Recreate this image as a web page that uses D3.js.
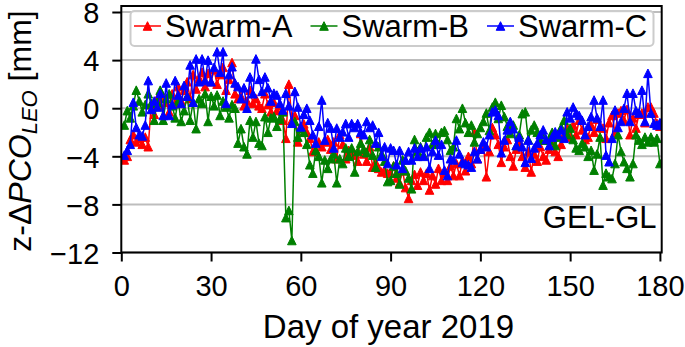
<!DOCTYPE html>
<html>
<head>
<meta charset="utf-8">
<script src="https://cdn.jsdelivr.net/npm/d3@7"></script>
<style>
html,body{margin:0;padding:0;background:#fff;}
text{font-family:"Liberation Sans",Arial,sans-serif;}
</style>
</head>
<body>
<script>
// ---- data ----
const days = d3.range(1, 181);
const swarmA = [
-4.3,-4.0,-2.6,-2.2,-2.8,-2.5,-3.0,-2.4,-3.2,0.3,
-0.5,0.8,0.2,1.0,0.5,-0.3,1.2,0.4,1.8,0.6,
1.5,2.2,0.8,2.8,1.6,2.5,3.0,1.8,2.9,2.2,
3.2,2.0,2.8,3.4,1.5,2.4,3.8,1.2,0.8,1.0,
0.2,0.6,1.5,0.4,0.8,0.2,0.0,1.2,0.3,-0.3,
0.5,-0.2,0.2,-1.0,-2.5,2.0,-1.0,-0.6,-2.8,-1.5,
-1.3,-2.0,-2.5,-3.6,-3.5,-2.8,-3.2,-2.8,-2.6,-3.4,
-2.8,-4.2,-2.2,-3.0,-4.2,-3.5,-3.9,-3.8,-4.4,-2.1,
-3.8,-4.4,-3.2,-4.9,-4.5,-5.0,-5.3,-5.2,-5.4,-5.4,
-4.8,-5.8,-6.2,-5.2,-6.6,-7.5,-6.0,-5.5,-6.4,-5.3,
-6.0,-5.4,-6.8,-5.6,-6.3,-5.0,-6.0,-5.4,-6.0,-4.8,
-5.6,-4.6,-5.6,-4.4,-5.2,-4.0,-4.6,-2.0,-4.2,-3.4,
-3.0,-5.7,-3.6,-1.6,-2.2,-3.0,-4.5,-3.2,-2.6,-4.0,
-4.8,-3.4,-2.8,-4.0,-4.9,-3.6,-5.3,-3.8,-4.4,-3.2,
-4.0,-4.3,-3.4,-2.8,-3.6,-4.0,-3.0,-2.2,-1.6,-2.4,
-1.4,-2.2,-1.0,-1.8,-2.6,-2.4,-1.4,-2.0,-0.9,-1.6,
-1.65,-2.5,-1.2,-0.6,-2.0,-0.4,-0.2,-1.0,-0.1,-2.2,
-0.8,-1.65,-0.5,-0.4,-1.2,0.1,0.1,-0.4,-1.25,-1.5];
const swarmB = [
-1.4,-0.2,-0.8,0.2,1.5,0.6,-0.3,0.3,1.2,0.4,
-1.0,0.5,1.5,-1.0,0.8,1.2,0.2,-0.8,0.6,-1.1,
-0.2,1.0,-1.0,0.5,-1.7,0.8,0.4,1.2,-1.1,1.0,
0.2,1.1,-0.6,0.6,0.1,-0.8,0.3,0.0,-2.9,-1.7,
-3.2,-3.8,-1.0,-2.4,-1.1,-2.9,-3.1,-0.7,-2.0,-0.8,
-0.7,-1.5,-0.9,-0.3,-9.1,-8.5,-11.0,-1.1,-2.4,-1.7,
-2.0,-3.0,-4.7,-5.4,-3.5,-4.0,-6.2,-4.3,-5.0,-4.2,
-3.8,-6.2,-4.2,-4.6,-3.3,-4.0,-3.3,-5.3,-3.6,-2.9,
-3.4,-3.7,-2.6,-3.9,-4.9,-3.2,-3.8,-4.4,-6.1,-6.0,
-4.8,-5.4,-6.3,-4.3,-5.2,-5.8,-6.7,-2.6,-3.6,-3.2,
-3.9,-2.4,-2.0,-3.0,-2.1,-3.0,-2.0,-1.85,-2.6,-3.5,
-3.2,-0.85,-1.7,0.0,-1.2,-2.0,-1.4,-2.8,-2.1,-1.6,
-1.1,-0.4,-1.85,0.1,0.5,-0.85,0.25,-0.7,-1.5,-2.1,
-1.4,-3.1,-2.2,-0.45,-0.3,-2.6,-1.8,-1.4,-2.0,-2.65,
-2.2,-2.65,-2.65,-2.0,-3.1,-2.4,-1.6,-1.0,-2.2,-1.65,
-2.6,-3.3,-3.5,-2.9,-3.2,-4.0,-3.5,-5.15,-3.8,-2.4,
-6.4,-5.4,-5.7,-5.85,-4.6,-2.2,-3.6,-4.45,-5.0,-5.7,
-4.6,-2.2,-2.65,-3.0,-2.4,-2.8,-2.4,-2.8,-2.5,-4.6];
const swarmC = [
-3.9,-3.5,-3.0,0.5,-1.6,-2.2,-2.3,-1.4,2.3,-0.1,
0.6,0.1,1.25,-0.6,2.1,-0.6,0.3,2.3,1.1,0.4,
1.9,1.0,3.6,0.5,4.1,2.2,4.1,2.3,4.0,2.2,
3.4,4.7,3.0,4.7,0.4,2.8,3.45,2.1,1.8,0.8,
1.7,0.0,2.6,1.2,4.1,2.4,1.4,2.6,1.7,0.6,
1.25,1.1,0.4,-0.15,1.25,0.2,-1.25,1.4,0.1,-1.55,
-0.5,0.0,-1.0,-2.2,-2.9,-1.5,0.68,-2.65,-1.2,-1.65,
-3.3,-1.65,-2.4,-1.96,-1.27,-2.4,-1.27,-1.6,-1.27,-2.0,
-2.2,-1.1,-1.6,-1.4,-2.9,-2.0,-4.0,-3.2,-4.6,-3.3,
-3.5,-4.7,-3.5,-5.0,-4.3,-3.6,-4.3,-3.3,-4.0,-3.3,
-4.0,-3.2,-5.0,-3.6,-2.65,-3.9,-3.0,-5.15,-5.6,-4.2,
-4.3,-2.65,-3.8,-4.5,-4.6,-4.7,-4.9,-3.6,-4.2,-3.4,
-2.8,-3.2,-2.2,-0.3,-0.15,-0.6,-3.7,-2.65,-1.8,-1.1,
-1.7,-3.1,-2.4,-3.2,-4.5,-2.65,-4.15,-3.3,-2.9,-2.2,
-1.8,-2.6,-3.1,-2.4,-1.96,-2.2,-1.8,-2.5,-0.3,-0.8,
0.1,-0.4,-0.6,-1.0,-2.2,-1.5,-0.7,0.68,-0.8,-1.5,
0.68,-3.9,-4.45,-2.5,-0.15,-1.6,-1.1,0.0,1.25,-1.1,
1.25,-0.2,-0.4,1.5,-1.1,2.9,-0.4,-1.25,-1.4,-1.2];
const seriesNames = ["Swarm-A","Swarm-B","Swarm-C"];
const seriesColors = ["#ff0000","#008000","#0000ff"];
const xTicks = [0,30,60,90,120,150,180];
const yTicks = [-12,-8,-4,0,4,8];
const xLabel = "Day of year 2019";
const panelLabel = "GEL-GL";

// ---- drawing ----
const W = 685, H = 347;
const svg = d3.select("body").append("svg").attr("width", W).attr("height", H);
const x = d3.scaleLinear().domain([0, 180.6]).range([121.3, 661.7]);
const y = d3.scaleLinear().domain([-12, 8.5]).range([252.5, 6]);
const fmt = v => (v < 0 ? "\u2212" + Math.abs(v) : String(v));

// grid
svg.append("g").selectAll("line").data(yTicks).join("line")
  .attr("x1", x.range()[0]).attr("x2", x.range()[1])
  .attr("y1", d => y(d)).attr("y2", d => y(d))
  .attr("stroke", "#bdbdbd").attr("stroke-width", 2);

svg.append("defs").append("clipPath").attr("id", "clip")
  .append("rect").attr("x", x.range()[0]).attr("y", y.range()[1])
  .attr("width", x.range()[1] - x.range()[0]).attr("height", y.range()[0] - y.range()[1]);

const tri = "M0,-4.3L4.3,4.3L-4.3,4.3Z";
const plot = svg.append("g").attr("clip-path", "url(#clip)");
const allSeries = [swarmA, swarmB, swarmC];
allSeries.forEach((vals, i) => {
  const pts = days.map((d, j) => [d, vals[j]]);
  const g = plot.append("g");
  g.append("path").datum(pts)
    .attr("d", d3.line().x(d => x(d[0])).y(d => y(d[1])))
    .attr("fill", "none").attr("stroke", seriesColors[i]).attr("stroke-width", 1.5)
    .attr("stroke-linejoin", "round");
  g.selectAll("path.m").data(pts).join("path").attr("class", "m")
    .attr("d", tri)
    .attr("transform", d => `translate(${x(d[0])},${y(d[1])})`)
    .attr("fill", seriesColors[i]).attr("stroke", seriesColors[i]).attr("stroke-width", 1);
});

// axes
const xAxis = svg.append("g").attr("transform", `translate(0,${y.range()[0]})`)
  .call(d3.axisBottom(x).tickValues(xTicks).tickSize(9).tickPadding(14).tickFormat(fmt));
const yAxis = svg.append("g").attr("transform", `translate(${x.range()[0]},0)`)
  .call(d3.axisLeft(y).tickValues(yTicks).tickSize(9).tickPadding(13).tickFormat(fmt));
[xAxis, yAxis].forEach(a => {
  a.select(".domain").remove();
  a.selectAll(".tick line").attr("stroke", "#000").attr("stroke-width", 2);
  a.selectAll(".tick text").attr("font-size", 29).attr("fill", "#000")
    .attr("font-family", "Liberation Sans, Arial, sans-serif");
});
yAxis.selectAll(".tick text").attr("dy", "0.37em");

// spines
svg.append("rect").attr("x", x.range()[0]).attr("y", y.range()[1])
  .attr("width", x.range()[1] - x.range()[0]).attr("height", y.range()[0] - y.range()[1])
  .attr("fill", "none").attr("stroke", "#000").attr("stroke-width", 2);

// legend
const lg = svg.append("g");
lg.append("rect").attr("x", 130.5).attr("y", 11).attr("width", 523).attr("height", 35)
  .attr("rx", 4).attr("fill", "#fff").attr("fill-opacity", 0.85)
  .attr("stroke", "#cccccc").attr("stroke-width", 2);
const legX = [134, 310.5, 487];
seriesNames.forEach((n, i) => {
  const g = lg.append("g").attr("transform", `translate(${legX[i]},0)`);
  g.append("line").attr("x1", 0).attr("x2", 27).attr("y1", 26).attr("y2", 26)
    .attr("stroke", seriesColors[i]).attr("stroke-width", 1.5);
  g.append("path").attr("d", tri).attr("transform", "translate(13.5,26)")
    .attr("fill", seriesColors[i]).attr("stroke", seriesColors[i]).attr("stroke-width", 1);
  g.append("text").attr("x", 31).attr("y", 37).attr("font-size", 31).text(n);
});

// panel label
svg.append("text").attr("x", 656.5).attr("y", 228).attr("text-anchor", "end")
  .attr("font-size", 31).text(panelLabel);

// x label
svg.append("text").attr("x", (x.range()[0] + x.range()[1]) / 2 - 3).attr("y", 338)
  .attr("text-anchor", "middle").attr("font-size", 33).text(xLabel);

// y label
const yl = svg.append("text").attr("transform", "translate(31,131) rotate(-90)")
  .attr("text-anchor", "middle").attr("font-size", 32);
yl.append("tspan").text("z-\u0394");
yl.append("tspan").attr("font-style", "italic").text("PCO");
yl.append("tspan").attr("font-style", "italic").attr("font-size", 22).attr("dy", 6).text("LEO");
yl.append("tspan").attr("dy", -6).text(" [mm]");
</script>
</body>
</html>
